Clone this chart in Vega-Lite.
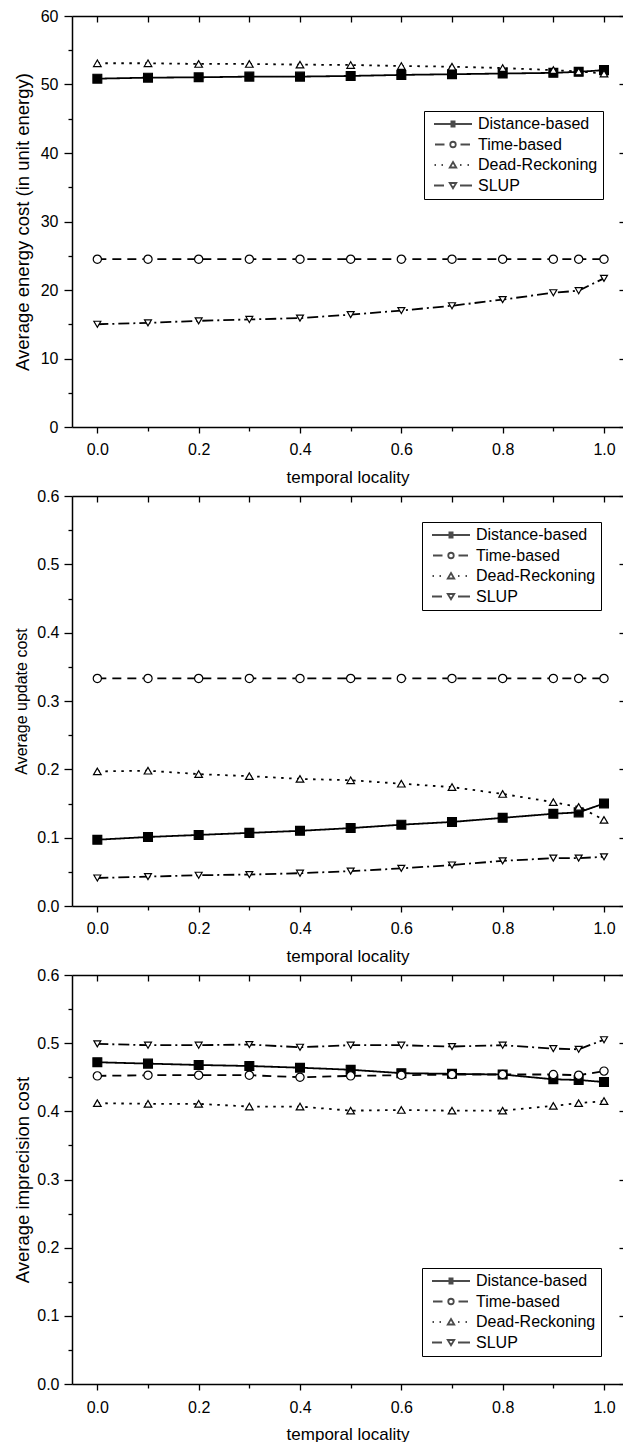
{
  "$schema": "https://vega.github.io/schema/vega-lite/v6.json",
  "padding": {"left": 13, "top": 8, "right": 0, "bottom": 0},
  "bounds": "flush",
  "spacing": 69,
  "background": "white",
  "config": {
    "view": {"stroke": null},
    "axis": {
      "grid": false,
      "domainColor": "black",
      "domainWidth": 1.5,
      "tickColor": "black",
      "tickWidth": 1.3,
      "labelColor": "black",
      "titleColor": "black",
      "labelFont": "Liberation Sans",
      "titleFont": "Liberation Sans",
      "labelFontSize": 16,
      "titleFontWeight": "normal",
      "labelFlush": false,
      "labelOverlap": false
    },
    "legend": {
      "labelFont": "Liberation Sans",
      "labelColor": "black"
    }
  },
  "datasets": {
    "energy": [
      {"tl": 0.0, "series": "Distance-based", "v": 50.85},
      {"tl": 0.1, "series": "Distance-based", "v": 51.0},
      {"tl": 0.2, "series": "Distance-based", "v": 51.05},
      {"tl": 0.3, "series": "Distance-based", "v": 51.15},
      {"tl": 0.4, "series": "Distance-based", "v": 51.15},
      {"tl": 0.5, "series": "Distance-based", "v": 51.25},
      {"tl": 0.6, "series": "Distance-based", "v": 51.4},
      {"tl": 0.7, "series": "Distance-based", "v": 51.5},
      {"tl": 0.8, "series": "Distance-based", "v": 51.6},
      {"tl": 0.9, "series": "Distance-based", "v": 51.7},
      {"tl": 0.95, "series": "Distance-based", "v": 51.85},
      {"tl": 1.0, "series": "Distance-based", "v": 52.1},
      {"tl": 0.0, "series": "Time-based", "v": 24.5},
      {"tl": 0.1, "series": "Time-based", "v": 24.5},
      {"tl": 0.2, "series": "Time-based", "v": 24.5},
      {"tl": 0.3, "series": "Time-based", "v": 24.5},
      {"tl": 0.4, "series": "Time-based", "v": 24.5},
      {"tl": 0.5, "series": "Time-based", "v": 24.5},
      {"tl": 0.6, "series": "Time-based", "v": 24.5},
      {"tl": 0.7, "series": "Time-based", "v": 24.5},
      {"tl": 0.8, "series": "Time-based", "v": 24.5},
      {"tl": 0.9, "series": "Time-based", "v": 24.5},
      {"tl": 0.95, "series": "Time-based", "v": 24.5},
      {"tl": 1.0, "series": "Time-based", "v": 24.5},
      {"tl": 0.0, "series": "Dead-Reckoning", "v": 53.1},
      {"tl": 0.1, "series": "Dead-Reckoning", "v": 53.1},
      {"tl": 0.2, "series": "Dead-Reckoning", "v": 53.0},
      {"tl": 0.3, "series": "Dead-Reckoning", "v": 53.0},
      {"tl": 0.4, "series": "Dead-Reckoning", "v": 52.9},
      {"tl": 0.5, "series": "Dead-Reckoning", "v": 52.85},
      {"tl": 0.6, "series": "Dead-Reckoning", "v": 52.7},
      {"tl": 0.7, "series": "Dead-Reckoning", "v": 52.6},
      {"tl": 0.8, "series": "Dead-Reckoning", "v": 52.4},
      {"tl": 0.9, "series": "Dead-Reckoning", "v": 52.1},
      {"tl": 0.95, "series": "Dead-Reckoning", "v": 51.9},
      {"tl": 1.0, "series": "Dead-Reckoning", "v": 51.6},
      {"tl": 0.0, "series": "SLUP", "v": 15.0},
      {"tl": 0.1, "series": "SLUP", "v": 15.2},
      {"tl": 0.2, "series": "SLUP", "v": 15.5},
      {"tl": 0.3, "series": "SLUP", "v": 15.7},
      {"tl": 0.4, "series": "SLUP", "v": 15.9},
      {"tl": 0.5, "series": "SLUP", "v": 16.4},
      {"tl": 0.6, "series": "SLUP", "v": 17.0},
      {"tl": 0.7, "series": "SLUP", "v": 17.7},
      {"tl": 0.8, "series": "SLUP", "v": 18.6},
      {"tl": 0.9, "series": "SLUP", "v": 19.6},
      {"tl": 0.95, "series": "SLUP", "v": 19.9},
      {"tl": 1.0, "series": "SLUP", "v": 21.7}
    ],
    "update": [
      {"tl": 0.0, "series": "Distance-based", "v": 0.097},
      {"tl": 0.1, "series": "Distance-based", "v": 0.101},
      {"tl": 0.2, "series": "Distance-based", "v": 0.104},
      {"tl": 0.3, "series": "Distance-based", "v": 0.107},
      {"tl": 0.4, "series": "Distance-based", "v": 0.110},
      {"tl": 0.5, "series": "Distance-based", "v": 0.114},
      {"tl": 0.6, "series": "Distance-based", "v": 0.119},
      {"tl": 0.7, "series": "Distance-based", "v": 0.123},
      {"tl": 0.8, "series": "Distance-based", "v": 0.129},
      {"tl": 0.9, "series": "Distance-based", "v": 0.135},
      {"tl": 0.95, "series": "Distance-based", "v": 0.137},
      {"tl": 1.0, "series": "Distance-based", "v": 0.150},
      {"tl": 0.0, "series": "Time-based", "v": 0.333},
      {"tl": 0.1, "series": "Time-based", "v": 0.333},
      {"tl": 0.2, "series": "Time-based", "v": 0.333},
      {"tl": 0.3, "series": "Time-based", "v": 0.333},
      {"tl": 0.4, "series": "Time-based", "v": 0.333},
      {"tl": 0.5, "series": "Time-based", "v": 0.333},
      {"tl": 0.6, "series": "Time-based", "v": 0.333},
      {"tl": 0.7, "series": "Time-based", "v": 0.333},
      {"tl": 0.8, "series": "Time-based", "v": 0.333},
      {"tl": 0.9, "series": "Time-based", "v": 0.333},
      {"tl": 0.95, "series": "Time-based", "v": 0.333},
      {"tl": 1.0, "series": "Time-based", "v": 0.333},
      {"tl": 0.0, "series": "Dead-Reckoning", "v": 0.197},
      {"tl": 0.1, "series": "Dead-Reckoning", "v": 0.198},
      {"tl": 0.2, "series": "Dead-Reckoning", "v": 0.193},
      {"tl": 0.3, "series": "Dead-Reckoning", "v": 0.190},
      {"tl": 0.4, "series": "Dead-Reckoning", "v": 0.186},
      {"tl": 0.5, "series": "Dead-Reckoning", "v": 0.184},
      {"tl": 0.6, "series": "Dead-Reckoning", "v": 0.179},
      {"tl": 0.7, "series": "Dead-Reckoning", "v": 0.174},
      {"tl": 0.8, "series": "Dead-Reckoning", "v": 0.164},
      {"tl": 0.9, "series": "Dead-Reckoning", "v": 0.152},
      {"tl": 0.95, "series": "Dead-Reckoning", "v": 0.145},
      {"tl": 1.0, "series": "Dead-Reckoning", "v": 0.126},
      {"tl": 0.0, "series": "SLUP", "v": 0.041},
      {"tl": 0.1, "series": "SLUP", "v": 0.043},
      {"tl": 0.2, "series": "SLUP", "v": 0.045},
      {"tl": 0.3, "series": "SLUP", "v": 0.046},
      {"tl": 0.4, "series": "SLUP", "v": 0.048},
      {"tl": 0.5, "series": "SLUP", "v": 0.051},
      {"tl": 0.6, "series": "SLUP", "v": 0.055},
      {"tl": 0.7, "series": "SLUP", "v": 0.060},
      {"tl": 0.8, "series": "SLUP", "v": 0.066},
      {"tl": 0.9, "series": "SLUP", "v": 0.070},
      {"tl": 0.95, "series": "SLUP", "v": 0.070},
      {"tl": 1.0, "series": "SLUP", "v": 0.072}
    ],
    "imprecision": [
      {"tl": 0.0, "series": "Distance-based", "v": 0.472},
      {"tl": 0.1, "series": "Distance-based", "v": 0.470},
      {"tl": 0.2, "series": "Distance-based", "v": 0.468},
      {"tl": 0.3, "series": "Distance-based", "v": 0.4665},
      {"tl": 0.4, "series": "Distance-based", "v": 0.464},
      {"tl": 0.5, "series": "Distance-based", "v": 0.461},
      {"tl": 0.6, "series": "Distance-based", "v": 0.456},
      {"tl": 0.7, "series": "Distance-based", "v": 0.455},
      {"tl": 0.8, "series": "Distance-based", "v": 0.454},
      {"tl": 0.9, "series": "Distance-based", "v": 0.447},
      {"tl": 0.95, "series": "Distance-based", "v": 0.446},
      {"tl": 1.0, "series": "Distance-based", "v": 0.443},
      {"tl": 0.0, "series": "Time-based", "v": 0.452},
      {"tl": 0.1, "series": "Time-based", "v": 0.453},
      {"tl": 0.2, "series": "Time-based", "v": 0.453},
      {"tl": 0.3, "series": "Time-based", "v": 0.453},
      {"tl": 0.4, "series": "Time-based", "v": 0.450},
      {"tl": 0.5, "series": "Time-based", "v": 0.452},
      {"tl": 0.6, "series": "Time-based", "v": 0.453},
      {"tl": 0.7, "series": "Time-based", "v": 0.454},
      {"tl": 0.8, "series": "Time-based", "v": 0.454},
      {"tl": 0.9, "series": "Time-based", "v": 0.454},
      {"tl": 0.95, "series": "Time-based", "v": 0.453},
      {"tl": 1.0, "series": "Time-based", "v": 0.459},
      {"tl": 0.0, "series": "Dead-Reckoning", "v": 0.412},
      {"tl": 0.1, "series": "Dead-Reckoning", "v": 0.411},
      {"tl": 0.2, "series": "Dead-Reckoning", "v": 0.411},
      {"tl": 0.3, "series": "Dead-Reckoning", "v": 0.407},
      {"tl": 0.4, "series": "Dead-Reckoning", "v": 0.407},
      {"tl": 0.5, "series": "Dead-Reckoning", "v": 0.401},
      {"tl": 0.6, "series": "Dead-Reckoning", "v": 0.402},
      {"tl": 0.7, "series": "Dead-Reckoning", "v": 0.401},
      {"tl": 0.8, "series": "Dead-Reckoning", "v": 0.401},
      {"tl": 0.9, "series": "Dead-Reckoning", "v": 0.408},
      {"tl": 0.95, "series": "Dead-Reckoning", "v": 0.412},
      {"tl": 1.0, "series": "Dead-Reckoning", "v": 0.415},
      {"tl": 0.0, "series": "SLUP", "v": 0.499},
      {"tl": 0.1, "series": "SLUP", "v": 0.497},
      {"tl": 0.2, "series": "SLUP", "v": 0.497},
      {"tl": 0.3, "series": "SLUP", "v": 0.498},
      {"tl": 0.4, "series": "SLUP", "v": 0.494},
      {"tl": 0.5, "series": "SLUP", "v": 0.497},
      {"tl": 0.6, "series": "SLUP", "v": 0.497},
      {"tl": 0.7, "series": "SLUP", "v": 0.495},
      {"tl": 0.8, "series": "SLUP", "v": 0.497},
      {"tl": 0.9, "series": "SLUP", "v": 0.492},
      {"tl": 0.95, "series": "SLUP", "v": 0.491},
      {"tl": 1.0, "series": "SLUP", "v": 0.505}
    ]
  },
  "vconcat": [
    {
      "width": 551,
      "height": 411,
      "data": {"name": "energy"},
      "resolve": {"axis": {"x": "independent", "y": "independent"}, "scale": {"shape": "independent"}},
      "layer": [
        {
          "mark": {"type": "line", "color": "black", "strokeWidth": 1.8},
          "encoding": {
            "x": {"field": "tl", "type": "quantitative", "scale": {"domain": [-0.05, 1.0375], "nice": false, "zero": false},
              "axis": {"orient": "bottom", "values": [0, 0.2, 0.4, 0.6, 0.8, 1.0], "format": ".1f", "tickSize": 6, "labelPadding": 8, "title": "temporal locality", "titleFontSize": 17, "titlePadding": 12}},
            "y": {"field": "v", "type": "quantitative", "scale": {"domain": [0, 60], "nice": false},
              "axis": {"orient": "left", "values": [0, 10, 20, 30, 40, 50, 60], "format": "d", "tickSize": 8, "labelPadding": 6, "title": "Average energy cost (in unit energy)", "titleFontSize": 18.5, "titlePadding": 8}},
            "strokeDash": {"field": "series", "type": "nominal", "scale": {"domain": ["Distance-based", "Time-based", "Dead-Reckoning", "SLUP"], "range": [[1, 0], [9, 6], [2.5, 5.5], [11, 4, 2, 4]]}, "legend": null}
          }
        },
        {
          "mark": {"type": "point", "filled": true, "stroke": "black", "strokeWidth": 1.2, "opacity": 1},
          "encoding": {
            "x": {"field": "tl", "type": "quantitative", "axis": {"orient": "top", "values": [0, 0.1, 0.2, 0.3, 0.4, 0.5, 0.6, 0.7, 0.8, 0.9, 1.0], "tickSize": -6, "labels": false, "title": null, "domain": true}},
            "y": {"field": "v", "type": "quantitative", "axis": {"orient": "right", "values": [0, 10, 20, 30, 40, 50, 60], "tickSize": -4, "labels": false, "title": null, "domain": false}},
            "shape": {"field": "series", "type": "nominal", "scale": {"domain": ["Distance-based", "Time-based", "Dead-Reckoning", "SLUP"], "range": ["square", "circle", "triangle-up", "triangle-down"]}, "legend": null},
            "fill": {"field": "series", "type": "nominal", "scale": {"domain": ["Distance-based", "Time-based", "Dead-Reckoning", "SLUP"], "range": ["black", "white", "white", "white"]}, "legend": null},
            "size": {"field": "series", "type": "nominal", "scale": {"domain": ["Distance-based", "Time-based", "Dead-Reckoning", "SLUP"], "range": [78, 48, 85, 85]}, "legend": null}
          }
        },
        {
          "transform": [{"filter": "datum.tl < -1"}],
          "mark": {"type": "point", "filled": false, "color": "black", "strokeWidth": 1.8},
          "encoding": {
            "x": {"field": "tl", "type": "quantitative", "axis": {"orient": "bottom", "values": [0.1, 0.3, 0.5, 0.7, 0.9], "tickSize": 4, "labels": false, "title": null, "domain": false}},
            "y": {"field": "v", "type": "quantitative", "axis": {"orient": "left", "values": [5, 15, 25, 35, 45, 55], "tickSize": 4, "labels": false, "title": null, "domain": false}},
            "shape": {"field": "series", "type": "nominal",
              "scale": {"domain": ["Distance-based", "Time-based", "Dead-Reckoning", "SLUP"],
                "range": ["M-3.8,0H3.8M-0.5,-0.5H0.5M-0.5,-0.25H0.5M-0.5,0H0.5M-0.5,0.25H0.5M-0.5,0.5H0.5",
                          "M-3.6,0H-1.7M1.5,0H3.4M0.55,0A0.55,0.55,0,1,1,-0.55,0A0.55,0.55,0,1,1,0.55,0Z",
                          "M-3.7,0H-3.4M-2.3,0H-2.0M1.4,0H1.7M2.9,0H3.2M0,-0.6L0.65,0.5L-0.65,0.5Z",
                          "M-3.8,0H-1.8M1.4,0H3.8M0,0.55L0.65,-0.5L-0.65,-0.5Z"]},
              "legend": {"orient": "none", "legendX": 352, "legendY": 95, "title": null, "symbolSize": 100, "symbolStrokeWidth": 1.8, "labelFontSize": 16, "strokeColor": "black", "fillColor": "white", "padding": 5, "rowPadding": 4.5, "symbolOffset": 16, "labelOffset": 17,
                "encode": {"symbols": {"update": {"stroke": {"value": "black"}, "fill": {"value": "white"}, "strokeWidth": {"value": 1.8}, "opacity": {"value": 1}}}}}}
          }
        }
      ]
    },
    {
      "width": 551,
      "height": 410,
      "data": {"name": "update"},
      "resolve": {"axis": {"x": "independent", "y": "independent"}, "scale": {"shape": "independent"}},
      "layer": [
        {
          "mark": {"type": "line", "color": "black", "strokeWidth": 1.8},
          "encoding": {
            "x": {"field": "tl", "type": "quantitative", "scale": {"domain": [-0.05, 1.0375], "nice": false, "zero": false},
              "axis": {"orient": "bottom", "values": [0, 0.2, 0.4, 0.6, 0.8, 1.0], "format": ".1f", "tickSize": 6, "labelPadding": 8, "title": "temporal locality", "titleFontSize": 17, "titlePadding": 12}},
            "y": {"field": "v", "type": "quantitative", "scale": {"domain": [0, 0.6], "nice": false},
              "axis": {"orient": "left", "values": [0, 0.1, 0.2, 0.3, 0.4, 0.5, 0.6], "format": ".1f", "tickSize": 8, "labelPadding": 5, "title": "Average update cost", "titleFontSize": 16, "titlePadding": 7}},
            "strokeDash": {"field": "series", "type": "nominal", "scale": {"domain": ["Distance-based", "Time-based", "Dead-Reckoning", "SLUP"], "range": [[1, 0], [9, 6], [2.5, 5.5], [11, 4, 2, 4]]}, "legend": null}
          }
        },
        {
          "mark": {"type": "point", "filled": true, "stroke": "black", "strokeWidth": 1.2, "opacity": 1},
          "encoding": {
            "x": {"field": "tl", "type": "quantitative", "axis": {"orient": "top", "values": [0, 0.1, 0.2, 0.3, 0.4, 0.5, 0.6, 0.7, 0.8, 0.9, 1.0], "tickSize": -6, "labels": false, "title": null, "domain": true}},
            "y": {"field": "v", "type": "quantitative", "axis": {"orient": "right", "values": [0, 0.1, 0.2, 0.3, 0.4, 0.5, 0.6], "tickSize": -4, "labels": false, "title": null, "domain": false}},
            "shape": {"field": "series", "type": "nominal", "scale": {"domain": ["Distance-based", "Time-based", "Dead-Reckoning", "SLUP"], "range": ["square", "circle", "triangle-up", "triangle-down"]}, "legend": null},
            "fill": {"field": "series", "type": "nominal", "scale": {"domain": ["Distance-based", "Time-based", "Dead-Reckoning", "SLUP"], "range": ["black", "white", "white", "white"]}, "legend": null},
            "size": {"field": "series", "type": "nominal", "scale": {"domain": ["Distance-based", "Time-based", "Dead-Reckoning", "SLUP"], "range": [78, 48, 85, 85]}, "legend": null}
          }
        },
        {
          "transform": [{"filter": "datum.tl < -1"}],
          "mark": {"type": "point", "filled": false, "color": "black", "strokeWidth": 1.8},
          "encoding": {
            "x": {"field": "tl", "type": "quantitative", "axis": {"orient": "bottom", "values": [0.1, 0.3, 0.5, 0.7, 0.9], "tickSize": 4, "labels": false, "title": null, "domain": false}},
            "y": {"field": "v", "type": "quantitative", "axis": {"orient": "left", "values": [0.05, 0.15, 0.25, 0.35, 0.45, 0.55], "tickSize": 4, "labels": false, "title": null, "domain": false}},
            "shape": {"field": "series", "type": "nominal",
              "scale": {"domain": ["Distance-based", "Time-based", "Dead-Reckoning", "SLUP"],
                "range": ["M-3.8,0H3.8M-0.5,-0.5H0.5M-0.5,-0.25H0.5M-0.5,0H0.5M-0.5,0.25H0.5M-0.5,0.5H0.5",
                          "M-3.6,0H-1.7M1.5,0H3.4M0.55,0A0.55,0.55,0,1,1,-0.55,0A0.55,0.55,0,1,1,0.55,0Z",
                          "M-3.7,0H-3.4M-2.3,0H-2.0M1.4,0H1.7M2.9,0H3.2M0,-0.6L0.65,0.5L-0.65,0.5Z",
                          "M-3.8,0H-1.8M1.4,0H3.8M0,0.55L0.65,-0.5L-0.65,-0.5Z"]},
              "legend": {"orient": "none", "legendX": 350, "legendY": 26, "title": null, "symbolSize": 100, "symbolStrokeWidth": 1.8, "labelFontSize": 16, "strokeColor": "black", "fillColor": "white", "padding": 5, "rowPadding": 4.5, "symbolOffset": 16, "labelOffset": 17,
                "encode": {"symbols": {"update": {"stroke": {"value": "black"}, "fill": {"value": "white"}, "strokeWidth": {"value": 1.8}, "opacity": {"value": 1}}}}}}
          }
        }
      ]
    },
    {
      "width": 551,
      "height": 409,
      "data": {"name": "imprecision"},
      "resolve": {"axis": {"x": "independent", "y": "independent"}, "scale": {"shape": "independent"}},
      "layer": [
        {
          "mark": {"type": "line", "color": "black", "strokeWidth": 1.8},
          "encoding": {
            "x": {"field": "tl", "type": "quantitative", "scale": {"domain": [-0.05, 1.0375], "nice": false, "zero": false},
              "axis": {"orient": "bottom", "values": [0, 0.2, 0.4, 0.6, 0.8, 1.0], "format": ".1f", "tickSize": 6, "labelPadding": 9, "title": "temporal locality", "titleFontSize": 17, "titlePadding": 11}},
            "y": {"field": "v", "type": "quantitative", "scale": {"domain": [0, 0.6], "nice": false},
              "axis": {"orient": "left", "values": [0, 0.1, 0.2, 0.3, 0.4, 0.5, 0.6], "format": ".1f", "tickSize": 8, "labelPadding": 5, "title": "Average imprecision cost", "titleFontSize": 18.5, "titlePadding": 4}},
            "strokeDash": {"field": "series", "type": "nominal", "scale": {"domain": ["Distance-based", "Time-based", "Dead-Reckoning", "SLUP"], "range": [[1, 0], [9, 6], [2.5, 5.5], [11, 4, 2, 4]]}, "legend": null}
          }
        },
        {
          "mark": {"type": "point", "filled": true, "stroke": "black", "strokeWidth": 1.2, "opacity": 1},
          "encoding": {
            "x": {"field": "tl", "type": "quantitative", "axis": {"orient": "top", "values": [0, 0.1, 0.2, 0.3, 0.4, 0.5, 0.6, 0.7, 0.8, 0.9, 1.0], "tickSize": -6, "labels": false, "title": null, "domain": true}},
            "y": {"field": "v", "type": "quantitative", "axis": {"orient": "right", "values": [0, 0.1, 0.2, 0.3, 0.4, 0.5, 0.6], "tickSize": -4, "labels": false, "title": null, "domain": false}},
            "shape": {"field": "series", "type": "nominal", "scale": {"domain": ["Distance-based", "Time-based", "Dead-Reckoning", "SLUP"], "range": ["square", "circle", "triangle-up", "triangle-down"]}, "legend": null},
            "fill": {"field": "series", "type": "nominal", "scale": {"domain": ["Distance-based", "Time-based", "Dead-Reckoning", "SLUP"], "range": ["black", "white", "white", "white"]}, "legend": null},
            "size": {"field": "series", "type": "nominal", "scale": {"domain": ["Distance-based", "Time-based", "Dead-Reckoning", "SLUP"], "range": [78, 48, 85, 85]}, "legend": null}
          }
        },
        {
          "transform": [{"filter": "datum.tl < -1"}],
          "mark": {"type": "point", "filled": false, "color": "black", "strokeWidth": 1.8},
          "encoding": {
            "x": {"field": "tl", "type": "quantitative", "axis": {"orient": "bottom", "values": [0.1, 0.3, 0.5, 0.7, 0.9], "tickSize": 4, "labels": false, "title": null, "domain": false}},
            "y": {"field": "v", "type": "quantitative", "axis": {"orient": "left", "values": [0.05, 0.15, 0.25, 0.35, 0.45, 0.55], "tickSize": 4, "labels": false, "title": null, "domain": false}},
            "shape": {"field": "series", "type": "nominal",
              "scale": {"domain": ["Distance-based", "Time-based", "Dead-Reckoning", "SLUP"],
                "range": ["M-3.8,0H3.8M-0.5,-0.5H0.5M-0.5,-0.25H0.5M-0.5,0H0.5M-0.5,0.25H0.5M-0.5,0.5H0.5",
                          "M-3.6,0H-1.7M1.5,0H3.4M0.55,0A0.55,0.55,0,1,1,-0.55,0A0.55,0.55,0,1,1,0.55,0Z",
                          "M-3.7,0H-3.4M-2.3,0H-2.0M1.4,0H1.7M2.9,0H3.2M0,-0.6L0.65,0.5L-0.65,0.5Z",
                          "M-3.8,0H-1.8M1.4,0H3.8M0,0.55L0.65,-0.5L-0.65,-0.5Z"]},
              "legend": {"orient": "none", "legendX": 350, "legendY": 293, "title": null, "symbolSize": 100, "symbolStrokeWidth": 1.8, "labelFontSize": 16, "strokeColor": "black", "fillColor": "white", "padding": 5, "rowPadding": 4.5, "symbolOffset": 16, "labelOffset": 17,
                "encode": {"symbols": {"update": {"stroke": {"value": "black"}, "fill": {"value": "white"}, "strokeWidth": {"value": 1.8}, "opacity": {"value": 1}}}}}}
          }
        }
      ]
    }
  ]
}
